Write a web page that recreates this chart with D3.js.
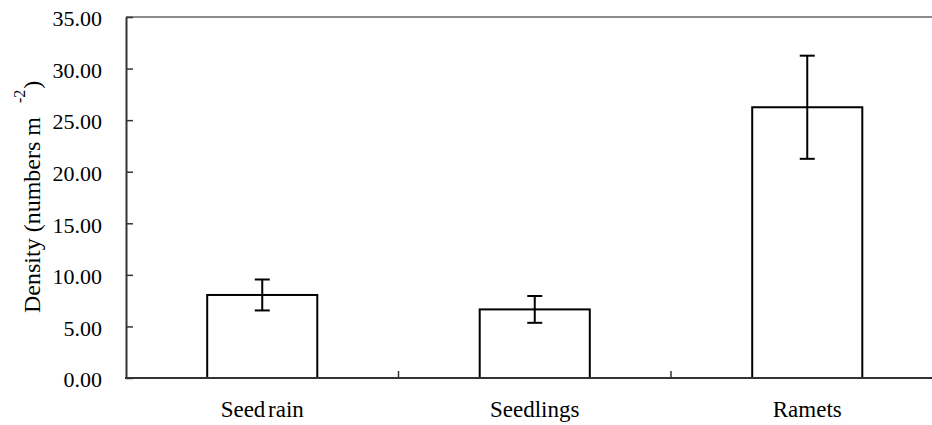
<html>
<head>
<script src="https://d3js.org/d3.v7.min.js"></script>
<style>
  body { margin: 0; background: #fff; }
</style>
</head>
<body>
<svg id="chart" width="932" height="425"></svg>
<script>
// values
const categories = ["Seed rain", "Seedlings", "Ramets"];
const densities = [8.05, 6.65, 26.25];
const errors = [1.5, 1.3, 5.0];
const yTicks = [0, 5, 10, 15, 20, 25, 30, 35];

const FONT = "'Liberation Serif', 'Times New Roman', serif";

const svg = d3.select("#chart");
const margin = { top: 17, left: 126, bottom: 47 };
const plotRight = 943.5;   // plot runs a bit past the picture edge
const height = +svg.attr("height");
const plotBottom = height - margin.bottom;

const x = d3.scaleBand().domain(categories).range([margin.left, plotRight]);
const y = d3.scaleLinear().domain([0, 35]).range([plotBottom, margin.top]);
const barW = x.bandwidth() * 0.404;

// top border (grey)
svg.append("line")
   .attr("x1", margin.left).attr("x2", 932)
   .attr("y1", margin.top).attr("y2", margin.top)
   .attr("stroke", "#8c8c8c").attr("stroke-width", 2);

// y axis
const yAxis = svg.append("g")
   .attr("transform", "translate(" + margin.left + ",0)")
   .call(d3.axisLeft(y).tickValues(yTicks).tickFormat(d3.format(".2f"))
           .tickSizeInner(-7).tickSizeOuter(0).tickPadding(24));
yAxis.attr("font-family", FONT).attr("font-size", 22);
yAxis.select(".domain").attr("stroke", "#333").attr("stroke-width", 2);
yAxis.selectAll(".tick line").attr("stroke", "#333").attr("stroke-width", 1.5);
yAxis.selectAll(".tick text")
   .style("font-family", FONT).style("font-size", "22px")
   .attr("dy", "0.4em");

// x axis: category boundary ticks pointing up
const bounds = categories.slice(1).map(c => x(c));
svg.selectAll("line.xtick").data(bounds)
   .join("line")
   .attr("class", "xtick")
   .attr("x1", d => d).attr("x2", d => d)
   .attr("y1", plotBottom).attr("y2", plotBottom - 7)
   .attr("stroke", "#333").attr("stroke-width", 1.5);

// bars
svg.selectAll("rect.bar").data(categories)
   .join("rect")
   .attr("class", "bar")
   .attr("x", d => x(d) + (x.bandwidth() - barW) / 2)
   .attr("width", barW)
   .attr("y", (d, i) => y(densities[i]))
   .attr("height", (d, i) => plotBottom - y(densities[i]))
   .attr("fill", "#fff")
   .attr("stroke", "#000")
   .attr("stroke-width", 2);

// error bars
const eb = svg.selectAll("g.err").data(categories)
   .join("g")
   .attr("class", "err")
   .attr("transform", d => "translate(" + (x(d) + x.bandwidth() / 2) + ",0)");
eb.append("line")
   .attr("y1", (d, i) => y(densities[i] + errors[i]))
   .attr("y2", (d, i) => y(densities[i] - errors[i]))
   .attr("stroke", "#000").attr("stroke-width", 2);
eb.append("line")
   .attr("x1", -7.5).attr("x2", 7.5)
   .attr("y1", (d, i) => y(densities[i] + errors[i]))
   .attr("y2", (d, i) => y(densities[i] + errors[i]))
   .attr("stroke", "#000").attr("stroke-width", 2);
eb.append("line")
   .attr("x1", -7.5).attr("x2", 7.5)
   .attr("y1", (d, i) => y(densities[i] - errors[i]))
   .attr("y2", (d, i) => y(densities[i] - errors[i]))
   .attr("stroke", "#000").attr("stroke-width", 2);

// x axis line on top of bars
svg.append("line")
   .attr("x1", margin.left - 1).attr("x2", 932)
   .attr("y1", plotBottom).attr("y2", plotBottom)
   .attr("stroke", "#333").attr("stroke-width", 2);

// category labels
svg.selectAll("text.cat").data(categories)
   .join("text")
   .attr("class", "cat")
   .attr("x", d => x(d) + x.bandwidth() / 2)
   .attr("y", 417)
   .attr("text-anchor", "middle")
   .style("font-family", FONT)
   .style("font-size", "23px")
   .style("word-spacing", "-3px")
   .text(d => d);

// y title
const title = svg.append("text")
   .attr("transform", "translate(40,313) rotate(-90)")
   .attr("text-anchor", "start")
   .style("font-family", FONT)
   .style("font-size", "24px");
title.append("tspan").text("Density (numbers m");
title.append("tspan").style("font-size", "16px").attr("dy", -15).attr("dx", 14).text("-2");
title.append("tspan").attr("dy", 15).attr("dx", 1).text(")");
</script>
</body>
</html>
